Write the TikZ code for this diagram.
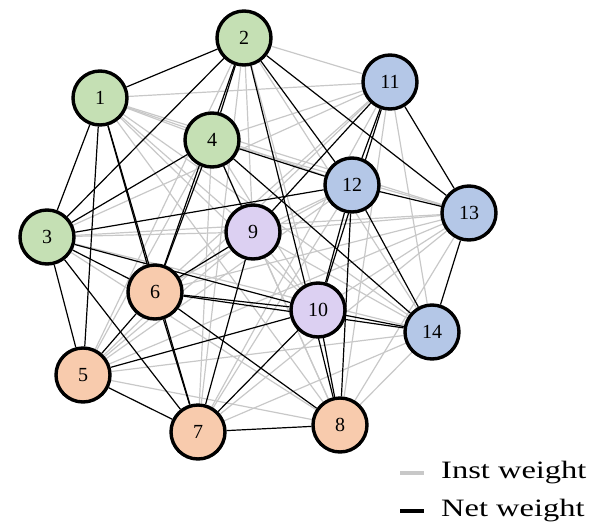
\documentclass[tikz,border=0pt]{standalone}
\usepackage{fontspec}
\setmainfont{Liberation Serif}
\newfontfamily\legendfont[FakeStretch=1.3]{Liberation Serif}
\usetikzlibrary{backgrounds}
\definecolor{cgreen}{HTML}{C5E0B4}
\definecolor{cblue}{HTML}{B4C7E7}
\definecolor{cpurple}{HTML}{DCD0F2}
\definecolor{corange}{HTML}{F8CBAD}
\definecolor{instgray}{HTML}{C8C8C8}
\tikzset{
  vnode/.style={circle, draw=black, line width=3.4pt, minimum size=54pt, inner sep=0pt,
    font=\fontsize{20}{24}\selectfont},
  gnode/.style={vnode, fill=cgreen},
  bnode/.style={vnode, fill=cblue},
  pnode/.style={vnode, fill=cpurple},
  onode/.style={vnode, fill=corange},
  instedge/.style={draw=instgray, line width=1.2pt},
  netedge/.style={draw=black, line width=1.2pt},
  legline/.style={line width=3.5pt},
  legtext/.style={anchor=west, inner sep=0pt, font=\legendfont\fontsize{25}{28}\selectfont}
}
\begin{document}
\begin{tikzpicture}[x=1pt,y=-1pt]
\useasboundingbox (0,0) rectangle (595,531);
\node[gnode] (n1) at (100,98) {1};
\node[gnode] (n2) at (244,38) {2};
\node[gnode] (n3) at (47,237) {3};
\node[gnode] (n4) at (212,140) {4};
\node[onode] (n5) at (83,375) {5};
\node[onode] (n6) at (155,292) {6};
\node[onode] (n7) at (198,432) {7};
\node[onode] (n8) at (340,425) {8};
\node[pnode] (n9) at (253,232) {9};
\node[pnode] (n10) at (318,310) {10};
\node[bnode] (n11) at (390,82) {11};
\node[bnode] (n12) at (352,185) {12};
\node[bnode] (n13) at (469,213) {13};
\node[bnode] (n14) at (432,332) {14};
\begin{pgfonlayer}{background}
% inst weight (gray) edges
\foreach \a/\b in {1/4,1/8,1/9,1/10,1/11,1/12,1/13,1/14,
  2/5,2/7,2/9,2/10,2/11,2/14,
  3/8,3/9,3/11,3/13,3/14,
  4/5,4/7,4/8,4/10,4/11,4/13,
  5/8,5/9,5/11,5/12,5/13,5/14,
  6/11,6/12,6/13,
  7/11,7/12,7/13,7/14,
  8/9,8/11,8/13,8/14,
  9/10,9/12,9/13,9/14,
  10/13,11/14}
  \draw[instedge] (n\a) -- (n\b);
% net weight (black) edges
\foreach \a/\b in {1/2,1/3,1/5,1/6,1/7,
  2/3,2/4,2/6,2/8,2/12,2/13,
  3/4,3/5,3/6,3/7,3/10,3/12,
  4/6,4/9,4/12,4/14,
  5/6,5/7,5/10,
  6/7,6/8,6/9,6/10,6/14,
  7/8,7/9,7/10,
  8/10,8/12,
  9/11,
  10/11,10/12,10/14,
  11/12,11/13,
  12/13,12/14,
  13/14}
  \draw[netedge] (n\a) -- (n\b);
\end{pgfonlayer}
% legend
\coordinate (ig1) at (400,473);
\coordinate (ig2) at (424,473);
\coordinate (nw1) at (400,511);
\coordinate (nw2) at (424,511);
\draw[legline, instgray] (ig1) -- (ig2);
\draw[legline, black] (nw1) -- (nw2);
\node[legtext] (instlbl) at (441,473) {Inst weight};
\node[legtext] (netlbl) at (441,511) {Net weight};
\end{tikzpicture}
\end{document}
